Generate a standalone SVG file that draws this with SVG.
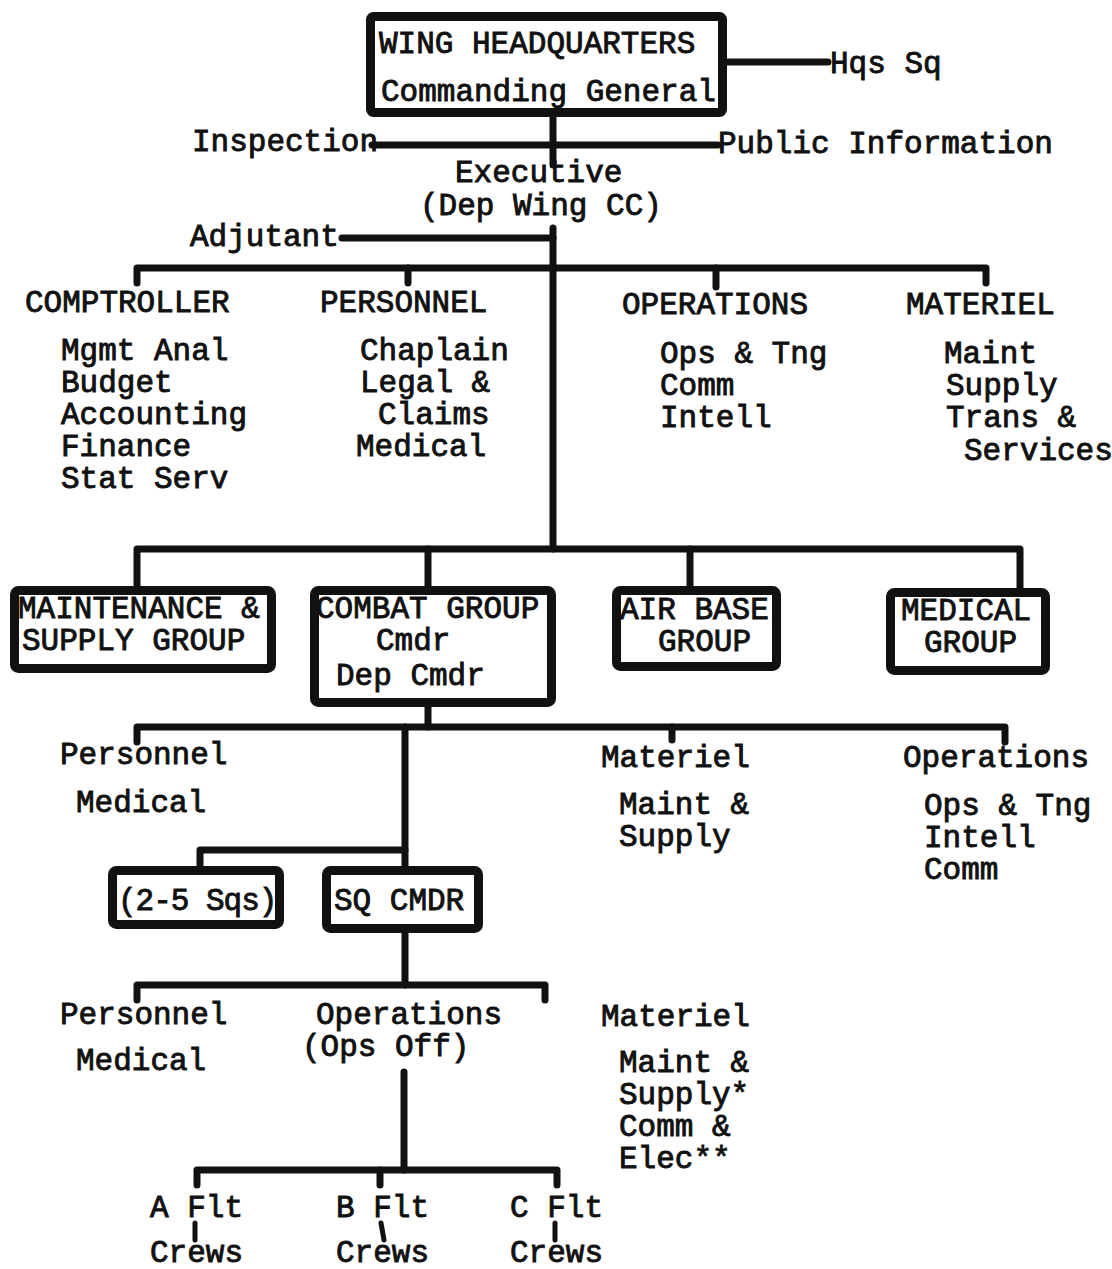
<svg xmlns="http://www.w3.org/2000/svg" width="1112" height="1269" viewBox="0 0 1112 1269">
  <style>
    text { font-family: "Liberation Mono", "DejaVu Sans Mono", monospace; font-size: 31px; fill: #111; stroke: #111; stroke-width: 0.9; }
    .box { fill: #fff; stroke: #111; stroke-width: 9; }
    .ln { fill: none; stroke: #111; stroke-width: 7; stroke-linecap: round; stroke-linejoin: round; }
    .thin { fill: none; stroke: #111; stroke-width: 5; stroke-linecap: round; }
  </style>
  <rect width="1112" height="1269" fill="#fff"/>

  <!-- connectors -->
  <g id="connectors">
    <!-- wing HQ -->
    <path class="ln" d="M727 62 H828"/>
    <path class="ln" d="M553 117 V165"/>
    <path class="ln" d="M372 145 H718"/>
    <path class="ln" d="M553 228 V549"/>
    <path class="ln" d="M342 238 H553"/>
    <!-- staff bus -->
    <path class="ln" d="M137 283 V268 H986 V283"/>
    <path class="ln" d="M408 268 V283"/>
    <path class="ln" d="M716 268 V287"/>
    <!-- group bus -->
    <path class="ln" d="M137 588 V549 H1020 V588"/>
    <path class="ln" d="M428 549 V588"/>
    <path class="ln" d="M690 549 V588"/>
    <!-- combat group staff -->
    <path class="ln" d="M428 706 V727"/>
    <path class="ln" d="M137 742 V727 H1005 V742"/>
    <path class="ln" d="M672 727 V740"/>
    <path class="ln" d="M405 727 V868"/>
    <path class="ln" d="M200 868 V850 H405"/>
    <!-- squadron staff -->
    <path class="ln" d="M405 932 V985"/>
    <path class="ln" d="M137 1000 V985 H545 V1000"/>
    <!-- flights -->
    <path class="ln" d="M404 1072 V1170"/>
    <path class="ln" d="M197 1185 V1170 H557 V1185"/>
    <path class="ln" d="M380 1170 V1185"/>
    <path class="thin" d="M195 1223 V1240"/>
    <path class="thin" d="M381 1223 L384 1240"/>
    <path class="thin" d="M555 1223 V1240"/>
  </g>

  <!-- wing headquarters -->
  <g id="wing-hq">
    <rect class="box" x="370.5" y="16.5" width="352" height="96" rx="3"/>
    <text x="379" y="53">WING HEADQUARTERS</text>
    <text x="381" y="101">Commanding General</text>
  </g>
  <g id="hqs-sq"><text x="830" y="73">Hqs Sq</text></g>
  <g id="inspection"><text x="192" y="151">Inspection</text></g>
  <g id="public-info"><text x="718" y="153">Public Information</text></g>
  <g id="executive">
    <text x="455" y="182">Executive</text>
    <text x="420" y="215">(Dep Wing CC)</text>
  </g>
  <g id="adjutant"><text x="190" y="246">Adjutant</text></g>

  <!-- wing staff -->
  <g id="comptroller">
    <text x="25" y="312">COMPTROLLER</text>
    <text x="61" y="360">Mgmt Anal</text>
    <text x="61" y="392">Budget</text>
    <text x="61" y="424">Accounting</text>
    <text x="61" y="456">Finance</text>
    <text x="61" y="488">Stat Serv</text>
  </g>
  <g id="personnel">
    <text x="320" y="312">PERSONNEL</text>
    <text x="360" y="360">Chaplain</text>
    <text x="360" y="392">Legal &amp;</text>
    <text x="378" y="424">Claims</text>
    <text x="356" y="456">Medical</text>
  </g>
  <g id="operations">
    <text x="622" y="314">OPERATIONS</text>
    <text x="660" y="363">Ops &amp; Tng</text>
    <text x="660" y="395">Comm</text>
    <text x="660" y="427">Intell</text>
  </g>
  <g id="materiel">
    <text x="906" y="314">MATERIEL</text>
    <text x="944" y="363">Maint</text>
    <text x="946" y="395">Supply</text>
    <text x="946" y="427">Trans &amp;</text>
    <text x="964" y="460">Services</text>
  </g>

  <!-- groups -->
  <g id="maint-supply-group">
    <rect class="box" x="14.5" y="590.5" width="257" height="78" rx="4"/>
    <text x="18" y="618">MAINTENANCE &amp;</text>
    <text x="22" y="650">SUPPLY GROUP</text>
  </g>
  <g id="combat-group">
    <rect class="box" x="314.5" y="590.5" width="237" height="112" rx="4"/>
    <text x="316" y="618">COMBAT GROUP</text>
    <text x="376" y="650">Cmdr</text>
    <text x="336" y="685">Dep Cmdr</text>
  </g>
  <g id="air-base-group">
    <rect class="box" x="616.5" y="590.5" width="160" height="76" rx="4"/>
    <text x="620" y="619">AIR BASE</text>
    <text x="658" y="651">GROUP</text>
  </g>
  <g id="medical-group">
    <rect class="box" x="890.5" y="592.5" width="155" height="78" rx="4"/>
    <text x="901" y="620">MEDICAL</text>
    <text x="924" y="652">GROUP</text>
  </g>

  <!-- combat group staff -->
  <g id="cg-personnel">
    <text x="60" y="764">Personnel</text>
    <text x="76" y="812">Medical</text>
  </g>
  <g id="cg-materiel">
    <text x="601" y="767">Materiel</text>
    <text x="619" y="814">Maint &amp;</text>
    <text x="619" y="846">Supply</text>
  </g>
  <g id="cg-operations">
    <text x="903" y="767">Operations</text>
    <text x="924" y="815">Ops &amp; Tng</text>
    <text x="924" y="847">Intell</text>
    <text x="924" y="879">Comm</text>
  </g>

  <!-- squadrons -->
  <g id="squadrons">
    <rect class="box" x="112.5" y="870.5" width="167" height="54" rx="4"/>
    <text x="118" y="910" letter-spacing="-1">(2-5 Sqs)</text>
  </g>
  <g id="sq-cmdr">
    <rect class="box" x="326.5" y="870.5" width="152" height="58" rx="4"/>
    <text x="334" y="910">SQ CMDR</text>
  </g>

  <!-- squadron staff -->
  <g id="sq-personnel">
    <text x="60" y="1024">Personnel</text>
    <text x="76" y="1070">Medical</text>
  </g>
  <g id="sq-operations">
    <text x="316" y="1024">Operations</text>
    <text x="302" y="1056">(Ops Off)</text>
  </g>
  <g id="sq-materiel">
    <text x="601" y="1026">Materiel</text>
    <text x="619" y="1072">Maint &amp;</text>
    <text x="619" y="1104">Supply*</text>
    <text x="619" y="1136">Comm &amp;</text>
    <text x="619" y="1168">Elec**</text>
  </g>

  <!-- flights -->
  <g id="a-flt">
    <text x="150" y="1217">A Flt</text>
    <text x="150" y="1262">Crews</text>
  </g>
  <g id="b-flt">
    <text x="336" y="1217">B Flt</text>
    <text x="336" y="1262">Crews</text>
  </g>
  <g id="c-flt">
    <text x="510" y="1217">C Flt</text>
    <text x="510" y="1262">Crews</text>
  </g>
</svg>
